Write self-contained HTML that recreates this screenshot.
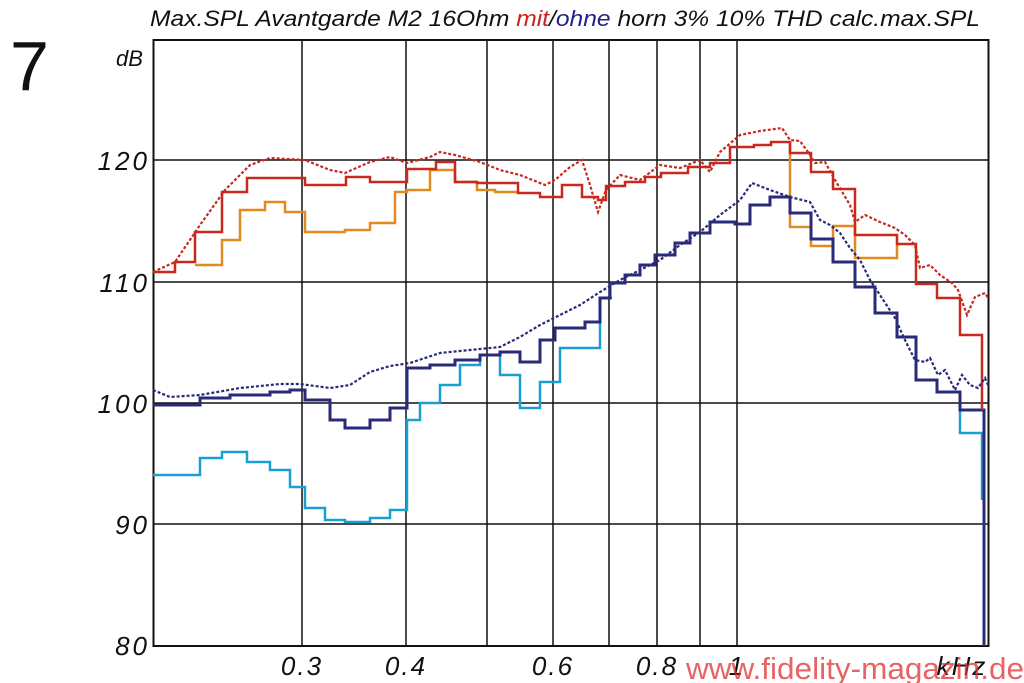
<!DOCTYPE html>
<html><head><meta charset="utf-8"><style>
html,body{margin:0;padding:0;background:#fff;width:1024px;height:683px;overflow:hidden}
svg{display:block}
text{font-family:"Liberation Sans",sans-serif}
</style></head><body>
<svg width="1024" height="683" viewBox="0 0 1024 683">
<text x="10" y="90" font-size="70" fill="#111">7</text>
<text x="150" y="26" font-size="22" font-style="italic" textLength="830" lengthAdjust="spacingAndGlyphs" fill="#111">Max.SPL Avantgarde M2 16Ohm <tspan fill="#d02020">mit</tspan>/<tspan fill="#222288">ohne</tspan> horn 3% 10% THD calc.max.SPL</text>
<text x="116" y="66" font-size="22" font-style="italic" fill="#111">dB</text>
<g font-size="26" font-style="italic" fill="#111" text-anchor="end" letter-spacing="3">
<text x="150" y="170">120</text><text x="150" y="292">110</text><text x="150" y="413">100</text><text x="150" y="534">90</text><text x="150" y="655">80</text>
</g>
<g font-size="26" font-style="italic" fill="#111" text-anchor="middle" letter-spacing="2">
<text x="302" y="675">0.3</text><text x="406" y="675">0.4</text><text x="553" y="675">0.6</text><text x="657" y="675">0.8</text><text x="737" y="675">1</text><text x="962" y="675">kHz</text>
</g>
<g stroke="#111" stroke-width="1.5">
<line x1="302" y1="40" x2="302" y2="646"/><line x1="406" y1="40" x2="406" y2="646"/><line x1="487" y1="40" x2="487" y2="646"/><line x1="553" y1="40" x2="553" y2="646"/><line x1="609" y1="40" x2="609" y2="646"/><line x1="657" y1="40" x2="657" y2="646"/><line x1="700" y1="40" x2="700" y2="646"/><line x1="737" y1="40" x2="737" y2="646"/>
<line x1="153" y1="160" x2="988" y2="160"/><line x1="153" y1="282" x2="988" y2="282"/><line x1="153" y1="403" x2="988" y2="403"/><line x1="153" y1="524" x2="988" y2="524"/>
</g>
<rect x="153.5" y="40" width="835" height="606" fill="none" stroke="#111" stroke-width="2"/>
<g fill="none" stroke-width="2.5">
<polyline stroke="#1aa0d0" points="153,475 200,475 200,458 222,458 222,452 247,452 247,462 270,462 270,470 290,470 290,487 305,487 305,508 325,508 325,520 345,520 345,522 370,522 370,518 390,518 390,510 407,510 407,420 420,420 420,403 440,403 440,385 460,385 460,365 480,365 480,355 500,355 500,375 520,375 520,408 540,408 540,382 560,382 560,348 600,348 600,298 612,298"/>
<polyline stroke="#1aa0d0" points="960,410 960,433 982,433 982,500"/>
<polyline stroke="#e08a20" points="195,265 222,265 222,240 240,240 240,210 265,210 265,202 285,202 285,212 305,212 305,232 345,232 345,230 370,230 370,223 395,223 395,192 407,192 407,190 430,190 430,170 455,170 455,182 477,182 477,190 495,190 495,192 518,192"/>
<polyline stroke="#e08a20" points="790,142 790,227 811,227 811,246 833,246 833,226 855,226 855,258 897,258 897,244"/>
<polyline stroke="#2a2a7a" stroke-width="3" points="153,405 200,405 200,398 230,398 230,395 270,395 270,392 290,392 290,390 305,390 305,400 330,400 330,420 345,420 345,428 370,428 370,420 390,420 390,408 407,408 407,368 430,368 430,365 455,365 455,360 480,360 480,355 500,355 500,352 520,352 520,362 540,362 540,340 555,340 555,328 585,328 585,322 600,322 600,298 610,298 610,283 625,283 625,275 640,275 640,265 655,265 655,255 675,255 675,243 690,243 690,233 710,233 710,222 735,222 735,224 750,224 750,205 770,205 770,197 790,197 790,213 811,213 811,239 833,239 833,262 855,262 855,287 875,287 875,313 897,313 897,337 916,337 916,380 937,380 937,392 960,392 960,410 984,410 984,646"/>
<polyline stroke="#c8281e" points="153,272 175,272 175,262 195,262 195,232 222,232 222,192 247,192 247,178 305,178 305,185 346,185 346,177 370,177 370,182 407,182 407,169 436,169 436,162 455,162 455,182 477,182 477,183 518,183 518,193 540,193 540,197 562,197 562,185 582,185 582,197 598,197 598,200 606,200 606,186 625,186 625,182 645,182 645,177 661,177 661,173 688,173 688,167 710,167 710,163 730,163 730,147 754,147 754,145 771,145 771,142 790,142 790,153 811,153 811,172 833,172 833,189 855,189 855,235 897,235 897,244 916,244 916,284 937,284 937,298 960,298 960,335 982,335 982,410"/>
</g>
<g fill="none" stroke-width="2.2" stroke-dasharray="3,2">
<polyline stroke="#c8281e" points="153,272 175,262 200,225 225,190 250,165 270,158 305,160 330,170 345,173 370,162 390,157 407,163 430,157 440,152 455,155 480,162 500,170 520,175 545,185 555,180 570,167 582,160 590,185 598,212 606,190 620,175 640,180 660,165 680,168 700,160 710,172 720,152 740,135 760,131 782,128 790,140 800,141 808,152 815,163 825,162 835,180 850,205 855,222 865,215 880,222 895,228 905,235 915,245 920,268 930,265 940,275 952,283 958,290 967,315 975,297 985,293 988,298"/>
<polyline stroke="#2a2a7a" points="153,390 170,397 200,395 240,388 280,384 300,384 330,388 350,385 370,372 390,366 410,363 440,353 470,350 500,347 520,337 540,325 560,315 580,305 600,292 620,280 640,270 660,260 680,245 700,232 720,215 740,200 752,183 770,190 790,197 810,202 820,220 830,225 840,233 850,248 860,260 870,280 880,295 895,318 905,340 915,360 925,362 930,358 938,375 945,370 955,390 962,375 970,385 978,388 985,378 988,385"/>
</g>
<text x="686" y="679" font-size="31" fill="#e03030" fill-opacity="0.75" textLength="338" lengthAdjust="spacingAndGlyphs">www.fidelity-magazin.de</text>
</svg>
</body></html>
